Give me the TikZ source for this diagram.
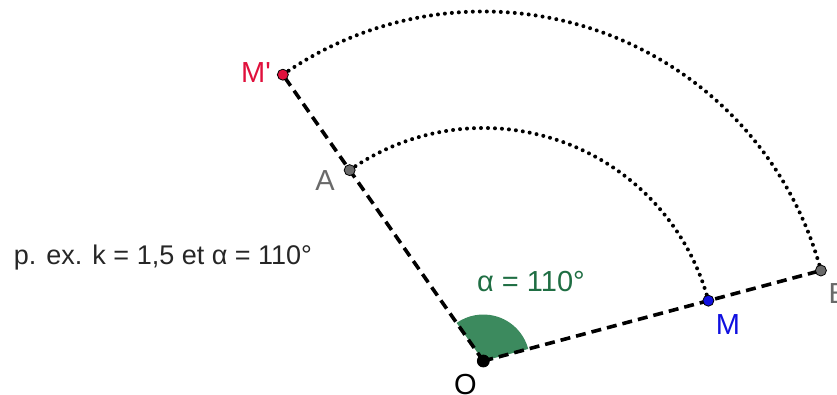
\documentclass[tikz,border=0pt]{standalone}
\usepackage{fontspec}
\setmainfont{Liberation Sans}
\usepackage{tikz}
\usetikzlibrary{positioning, calc}
\definecolor{anglefill}{HTML}{3C8A5E}
\definecolor{angletext}{HTML}{1F6E43}
\definecolor{imgred}{HTML}{E0103C}
\definecolor{imggrey}{HTML}{6A6A6A}
\definecolor{imgblue}{HTML}{1010E0}

\begin{document}
\begin{tikzpicture}[x=1pt, y=1pt,
  seg/.style={line width=3.6pt, dash pattern=on 10pt off 6pt},
  trace/.style={line width=4pt, line cap=round, dash pattern=on 0pt off 7pt},
  dot/.style={circle, draw=black, line width=0.8pt, inner sep=0pt, minimum size=11pt},
  lbl/.style={font=\fontsize{29}{32}\selectfont},
]
  \useasboundingbox (0,0) rectangle (837,395);
  % points
  \coordinate (O) at (483.3,34);
  \coordinate (M) at ($(O)+(15:233)$);
  \coordinate (B) at ($(O)+(15:349.5)$);
  \coordinate (A) at ($(O)+(125:233)$);
  \coordinate (Mp) at ($(O)+(125:349.5)$);
  % angle sector
  \fill[anglefill] (O) -- ($(O)+(15:46.5)$) arc[start angle=15, end angle=125, radius=46.5] -- cycle;
  % half-lines
  \draw[seg] (O) -- (B);
  \draw[seg] (O) -- (Mp);
  % traces of the rotation
  \draw[trace] (A) arc[start angle=125, end angle=15, radius=233];
  \draw[trace] (Mp) arc[start angle=125, end angle=15, radius=349.5];
  % marked points
  \node[dot, fill=black, minimum size=12pt] (Odot) at (O) {};
  \node[dot, fill=imgblue] (Mdot) at (M) {};
  \node[dot, fill=imggrey] (Bdot) at (B) {};
  \node[dot, fill=imggrey] (Adot) at (A) {};
  \node[dot, fill=imgred] (Mpdot) at (Mp) {};
  % labels
  \node[lbl] (Olbl) at (465.5,10) {O};
  \node[lbl, text=imgblue] (Mlbl) at (728,70) {M};
  \node[lbl, text=imggrey, anchor=west] (Blbl) at (825,101.5) {B};
  \node[lbl, text=imggrey] (Albl) at (325,214.3) {A};
  \node[lbl, text=imgred] (Mplbl) at (256,322.3) {M\textquotesingle};
  \node[lbl, text=angletext] (alpha) at (531,113.3) {α = 110°};
  \node[font=\fontsize{27}{31}\selectfont, text=black!85] (caption) at (163,137) {p. ex. k = 1,5 et α = 110°};
\end{tikzpicture}
\end{document}
